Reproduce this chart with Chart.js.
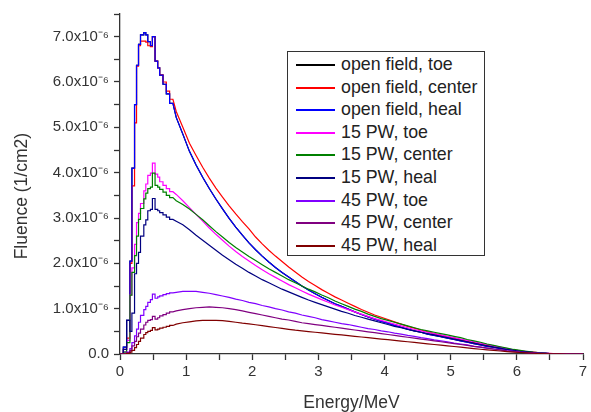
<!DOCTYPE html>
<html>
<head>
<meta charset="utf-8">
<script src="https://cdn.jsdelivr.net/npm/chart.js@4.4.1/dist/chart.umd.min.js"></script>
<style>
    html, body { margin: 0; padding: 0; background: #fff; }
    #wrap { position: relative; width: 591px; height: 412px; }
    #legend {
        position: absolute; left: 287px; top: 51px; width: 198px; height: 205px;
        box-sizing: border-box; border: 1px solid #333; background: #fff;
        font-family: "Liberation Sans", Arial, sans-serif; font-size: 17.8px; color: #222;
    }
    .row { position: absolute; left: 0; height: 22px; line-height: 22px; white-space: nowrap; }
    .sample { position: absolute; left: 8px; top: 11px; width: 39px; height: 2px; }
    .label { position: absolute; left: 53px; top: 0; }
</style>
</head>
<body>
<div id="wrap">
    <canvas id="myChart" width="591" height="412"></canvas>
    <div id="legend"></div>
</div>
<script>
// bin left edges in MeV (last one closes the histogram)
const energy = [0, 0.05, 0.1, 0.15, 0.18, 0.22, 0.25, 0.28, 0.31, 0.36, 0.39, 0.42, 0.46, 0.49, 0.53, 0.57, 0.6, 0.65, 0.7, 0.75,
    0.8, 0.9, 1.0, 1.1, 1.2, 1.3, 1.4, 1.5, 1.6, 1.7,
    1.8, 1.9, 2.0, 2.1, 2.2, 2.3, 2.4, 2.5, 2.6, 2.7,
    2.8, 2.9, 3.0, 3.1, 3.2, 3.3, 3.4, 3.5, 3.6, 3.7,
    3.8, 3.9, 4.0, 4.1, 4.2, 4.3, 4.4, 4.5, 4.6, 4.7,
    4.8, 4.9, 5.0, 5.1, 5.2, 5.3, 5.4, 5.5, 5.6, 5.7,
    5.8, 5.9, 6.0, 6.1, 6.2, 6.3, 6.4, 6.5, 6.6, 6.7,
    6.8, 6.9, 7.0];

// fluence values, in units of 1e-6 /cm2
const openToe = [0, 0.15, 0.74, 2.05, 4.1, 5.5, 6.37, 6.83, 7.04, 7.09, 7.04, 6.89, 6.8, 7.0, 6.46, 6.31, 6.15, 5.95, 5.74, 5.53,
    5.22, 4.85, 4.47, 4.17, 3.9, 3.65, 3.42, 3.2, 2.99, 2.8,
    2.62, 2.45, 2.3, 2.16, 2.03, 1.91, 1.8, 1.7, 1.6, 1.5,
    1.41, 1.33, 1.25, 1.18, 1.11, 1.05, 0.99, 0.93, 0.87, 0.82,
    0.77, 0.72, 0.68, 0.63, 0.59, 0.55, 0.51, 0.48, 0.44, 0.41,
    0.38, 0.35, 0.32, 0.29, 0.26, 0.23, 0.2, 0.17, 0.15, 0.12,
    0.1, 0.08, 0.06, 0.045, 0.03, 0.02, 0.012, 0.006, 0.003, 0.001,
    0, 0, 0];
const openCenter = [0, 0.1, 0.35, 2.0, 3.71, 5.1, 6.35, 6.8, 6.9, 6.9, 6.88, 6.8, 6.78, 7.0, 6.46, 6.31, 6.16, 6.0, 5.8, 5.62,
    5.35, 5.0, 4.65, 4.38, 4.12, 3.88, 3.66, 3.46, 3.27, 3.09,
    2.92, 2.76, 2.58, 2.43, 2.29, 2.16, 2.04, 1.92, 1.81, 1.7,
    1.6, 1.51, 1.42, 1.34, 1.26, 1.19, 1.12, 1.05, 0.98, 0.92,
    0.86, 0.81, 0.76, 0.71, 0.66, 0.61, 0.57, 0.53, 0.49, 0.45,
    0.41, 0.38, 0.35, 0.31, 0.28, 0.25, 0.22, 0.19, 0.16, 0.14,
    0.11, 0.09, 0.07, 0.05, 0.04, 0.025, 0.015, 0.008, 0.004, 0.002,
    0.001, 0, 0];
const openHeal = [0, 0.15, 0.74, 2.05, 4.1, 5.5, 6.37, 6.83, 7.04, 7.09, 7.04, 6.89, 6.8, 7.0, 6.46, 6.31, 6.15, 5.95, 5.74, 5.53,
    5.22, 4.85, 4.47, 4.17, 3.9, 3.65, 3.42, 3.2, 2.99, 2.8,
    2.62, 2.45, 2.3, 2.16, 2.03, 1.91, 1.8, 1.7, 1.6, 1.5,
    1.41, 1.33, 1.25, 1.18, 1.11, 1.05, 0.99, 0.93, 0.87, 0.82,
    0.77, 0.72, 0.68, 0.63, 0.59, 0.55, 0.51, 0.48, 0.44, 0.41,
    0.38, 0.35, 0.32, 0.29, 0.26, 0.23, 0.2, 0.17, 0.15, 0.12,
    0.1, 0.08, 0.06, 0.045, 0.03, 0.02, 0.012, 0.006, 0.003, 0.001,
    0, 0, 0];
const pw15Toe = [0, 0.05, 0.3, 1.3, 1.9, 2.42, 2.9, 3.1, 3.32, 3.6, 3.75, 3.94, 3.99, 4.21, 3.97, 3.9, 3.8, 3.72, 3.65, 3.58,
    3.52, 3.38, 3.23, 3.08, 2.93, 2.78, 2.64, 2.51, 2.38, 2.26,
    2.15, 2.05, 1.95, 1.86, 1.77, 1.69, 1.61, 1.53, 1.46, 1.39,
    1.32, 1.26, 1.2, 1.14, 1.08, 1.03, 0.98, 0.93, 0.88, 0.83,
    0.78, 0.74, 0.7, 0.66, 0.62, 0.58, 0.54, 0.51, 0.48, 0.45,
    0.42, 0.39, 0.36, 0.33, 0.3, 0.27, 0.24, 0.21, 0.18, 0.15,
    0.12, 0.09, 0.07, 0.05, 0.035, 0.022, 0.013, 0.007, 0.003, 0.001,
    0, 0, 0];
const pw15Center = [0, 0.04, 0.25, 1.3, 1.8, 2.17, 2.6, 2.97, 3.21, 3.42, 3.55, 3.65, 3.68, 3.99, 3.72, 3.68, 3.63, 3.57, 3.5, 3.45,
    3.38, 3.3, 3.2, 3.08, 2.96, 2.83, 2.7, 2.58, 2.46, 2.35,
    2.25, 2.15, 2.06, 1.97, 1.88, 1.8, 1.72, 1.64, 1.57, 1.5,
    1.43, 1.37, 1.3, 1.24, 1.17, 1.11, 1.05, 0.99, 0.94, 0.88,
    0.83, 0.78, 0.74, 0.7, 0.66, 0.62, 0.58, 0.54, 0.51, 0.48,
    0.45, 0.42, 0.39, 0.36, 0.32, 0.29, 0.26, 0.22, 0.19, 0.16,
    0.13, 0.1, 0.08, 0.06, 0.04, 0.028, 0.017, 0.01, 0.005, 0.002,
    0.001, 0, 0];
const pw15Heal = [0, 0.1, 0.74, 0.5, 0.9, 1.77, 2.0, 2.24, 2.6, 2.85, 2.96, 3.16, 3.19, 3.43, 3.19, 3.16, 3.12, 3.07, 3.02, 2.97,
    2.93, 2.85, 2.74, 2.62, 2.51, 2.4, 2.29, 2.18, 2.08, 1.98,
    1.89, 1.8, 1.72, 1.64, 1.57, 1.5, 1.43, 1.37, 1.31, 1.25,
    1.19, 1.14, 1.09, 1.04, 0.99, 0.94, 0.9, 0.85, 0.81, 0.77,
    0.73, 0.69, 0.65, 0.61, 0.58, 0.54, 0.51, 0.48, 0.45, 0.42,
    0.39, 0.36, 0.33, 0.3, 0.27, 0.24, 0.21, 0.18, 0.15, 0.13,
    0.1, 0.08, 0.06, 0.045, 0.03, 0.02, 0.012, 0.006, 0.003, 0.001,
    0, 0, 0];
const pw45Toe = [0, 0.01, 0.04, 0.12, 0.25, 0.4, 0.55, 0.7, 0.85, 0.98, 1.05, 1.14, 1.2, 1.32, 1.23, 1.26, 1.28, 1.31, 1.33, 1.35,
    1.36, 1.38, 1.38, 1.38, 1.36, 1.34, 1.31, 1.28, 1.25, 1.21,
    1.18, 1.14, 1.11, 1.07, 1.04, 1.0, 0.97, 0.93, 0.9, 0.86,
    0.83, 0.8, 0.76, 0.73, 0.7, 0.67, 0.65, 0.62, 0.59, 0.56,
    0.54, 0.51, 0.49, 0.46, 0.44, 0.41, 0.39, 0.36, 0.34, 0.31,
    0.29, 0.27, 0.24, 0.22, 0.2, 0.17, 0.15, 0.13, 0.11, 0.09,
    0.07, 0.06, 0.04, 0.03, 0.02, 0.013, 0.008, 0.004, 0.002, 0.001,
    0, 0, 0];
const pw45Center = [0, 0.01, 0.03, 0.08, 0.18, 0.28, 0.38, 0.46, 0.55, 0.64, 0.7, 0.74, 0.76, 0.83, 0.77, 0.8, 0.84, 0.87, 0.9, 0.93,
    0.95, 0.98, 1.0, 1.02, 1.03, 1.04, 1.03, 1.02, 1.0, 0.98,
    0.95, 0.92, 0.89, 0.86, 0.83, 0.8, 0.77, 0.75, 0.72, 0.69,
    0.67, 0.65, 0.63, 0.61, 0.59, 0.57, 0.55, 0.53, 0.51, 0.49,
    0.47, 0.45, 0.43, 0.41, 0.39, 0.37, 0.35, 0.33, 0.31, 0.29,
    0.27, 0.25, 0.23, 0.21, 0.19, 0.17, 0.15, 0.13, 0.11, 0.09,
    0.07, 0.055, 0.04, 0.03, 0.02, 0.013, 0.008, 0.004, 0.002, 0.001,
    0, 0, 0];
const pw45Heal = [0, 0, 0.01, 0.04, 0.08, 0.14, 0.21, 0.28, 0.35, 0.43, 0.47, 0.5, 0.52, 0.58, 0.53, 0.55, 0.57, 0.59, 0.61, 0.63,
    0.66, 0.69, 0.71, 0.73, 0.74, 0.745, 0.74, 0.735, 0.72, 0.7,
    0.68, 0.665, 0.645, 0.625, 0.605, 0.585, 0.565, 0.545, 0.525, 0.51,
    0.495, 0.48, 0.465, 0.45, 0.435, 0.42, 0.405, 0.39, 0.375, 0.36,
    0.345, 0.33, 0.315, 0.3, 0.285, 0.27, 0.255, 0.24, 0.225, 0.21,
    0.195, 0.18, 0.165, 0.15, 0.135, 0.12, 0.105, 0.09, 0.078, 0.066,
    0.054, 0.043, 0.033, 0.024, 0.016, 0.01, 0.006, 0.003, 0.001, 0,
    0, 0, 0];

const seriesNames = ['open field, toe', 'open field, center', 'open field, heal',
    '15 PW, toe', '15 PW, center', '15 PW, heal',
    '45 PW, toe', '45 PW, center', '45 PW, heal'];
const seriesValues = [openToe, openCenter, openHeal, pw15Toe, pw15Center, pw15Heal, pw45Toe, pw45Center, pw45Heal];
const seriesColors = ['#000000', '#ff0000', '#0000ff', '#ff00ff', '#008000', '#000080', '#8000ff', '#800080', '#800000'];

const LOW_BINS = 20; // the narrow bins below 0.8 MeV keep their histogram steps
const AXIS = '#333333';
Chart.defaults.font.family = '"Liberation Sans", Arial, sans-serif';

function toPoints(vals) {
    const pts = [];
    for (let k = 0; k < energy.length - 1; k++) {
        if (k < LOW_BINS) {
            pts.push({ x: energy[k], y: vals[k] }, { x: energy[k + 1], y: vals[k] });
        } else {
            pts.push({ x: (energy[k] + energy[k + 1]) / 2, y: vals[k] });
        }
    }
    pts.push({ x: energy[energy.length - 1], y: vals[vals.length - 1] });
    return pts;
}

const datasets = seriesValues.map((vals, i) => ({
    label: seriesNames[i],
    data: toPoints(vals),
    borderColor: seriesColors[i],
    borderWidth: 1.2,
    pointRadius: 0,
    tension: 0,
    fill: false,
    order: seriesValues.length - i, // later series drawn on top
}));

function isWhole(v) {
    return Math.abs(v - Math.round(v)) < 1e-9;
}

const config = {
    type: 'line',
    data: { datasets: datasets },
    options: {
        responsive: false,
        animation: false,
        layout: { padding: { top: 7, right: 8, left: 0, bottom: 0 } },
        plugins: {
            legend: { display: false },
            tooltip: { enabled: false },
        },
        scales: {
            x: {
                type: 'linear',
                min: 0,
                max: 7,
                afterFit: (scale) => { scale.height = 58; },
                ticks: {
                    stepSize: 0.5,
                    autoSkip: false,
                    maxRotation: 0,
                    padding: 3,
                    color: AXIS,
                    font: { size: 15 },
                    callback: (v) => isWhole(v) ? String(Math.round(v)) : '',
                },
                grid: { drawOnChartArea: false, drawTicks: true, tickLength: 6, tickColor: AXIS, tickWidth: 1.3 },
                border: { color: AXIS, width: 1.3 },
                title: { display: true, text: 'Energy/MeV', color: AXIS, font: { size: 17.5 }, padding: { top: 2, bottom: -2 } },
            },
            y: {
                type: 'linear',
                min: 0,
                max: 7.5,
                afterFit: (scale) => { scale.width = 120; },
                ticks: {
                    stepSize: 0.5,
                    autoSkip: false,
                    padding: 5,
                    color: AXIS,
                    font: { size: 15 },
                    callback: (v) => {
                        if (!isWhole(v)) return '';
                        if (v === 0) return '0.0';
                        return v.toFixed(1) + 'x10\u207B\u2076';
                    },
                },
                grid: { drawOnChartArea: false, drawTicks: true, tickLength: 6, tickColor: AXIS, tickWidth: 1.3 },
                border: { color: AXIS, width: 1.3 },
                // trailing no-break spaces push the rotated title a little lower, as in the original
                title: { display: true, text: 'Fluence (1/cm2)\u00a0\u00a0\u00a0\u00a0\u00a0', color: AXIS, font: { size: 17.5 }, padding: { top: 12, bottom: 0 } },
            },
        },
    },
};

const myChart = new Chart(document.getElementById('myChart'), config);

// boxed legend inside the plot, like the original
const legend = document.getElementById('legend');
seriesNames.forEach((name, i) => {
    const row = document.createElement('div');
    row.className = 'row';
    row.style.top = Math.round(1 + i * 22.6) + 'px';
    const sample = document.createElement('div');
    sample.className = 'sample';
    sample.style.background = seriesColors[i];
    const label = document.createElement('div');
    label.className = 'label';
    label.textContent = name;
    row.appendChild(sample);
    row.appendChild(label);
    legend.appendChild(row);
});
</script>
</body>
</html>
